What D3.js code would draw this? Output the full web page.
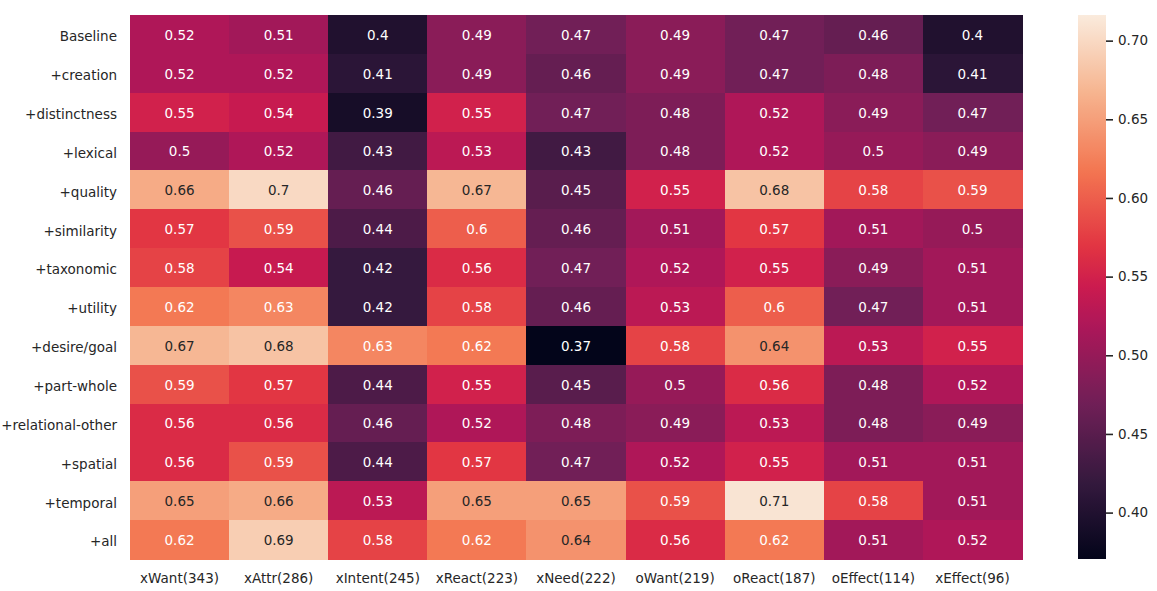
<!DOCTYPE html>
<html>
<head>
<meta charset="utf-8">
<script src="https://cdn.jsdelivr.net/npm/d3@7"></script>
<style>
  html, body { margin: 0; padding: 0; background: #ffffff; }
  svg { display: block; }
  text { font-family: "DejaVu Sans", sans-serif; }
</style>
</head>
<body>
<svg id="chart" width="1157" height="591"></svg>
<script>
// ---- data ----
const columns = ["xWant(343)", "xAttr(286)", "xIntent(245)", "xReact(223)", "xNeed(222)", "oWant(219)", "oReact(187)", "oEffect(114)", "xEffect(96)"];
const rows = ["Baseline", "+creation", "+distinctness", "+lexical", "+quality", "+similarity", "+taxonomic", "+utility", "+desire/goal", "+part-whole", "+relational-other", "+spatial", "+temporal", "+all"];
const values = [
  [0.52, 0.51, 0.40, 0.49, 0.47, 0.49, 0.47, 0.46, 0.40],
  [0.52, 0.52, 0.41, 0.49, 0.46, 0.49, 0.47, 0.48, 0.41],
  [0.55, 0.54, 0.39, 0.55, 0.47, 0.48, 0.52, 0.49, 0.47],
  [0.50, 0.52, 0.43, 0.53, 0.43, 0.48, 0.52, 0.50, 0.49],
  [0.66, 0.70, 0.46, 0.67, 0.45, 0.55, 0.68, 0.58, 0.59],
  [0.57, 0.59, 0.44, 0.60, 0.46, 0.51, 0.57, 0.51, 0.50],
  [0.58, 0.54, 0.42, 0.56, 0.47, 0.52, 0.55, 0.49, 0.51],
  [0.62, 0.63, 0.42, 0.58, 0.46, 0.53, 0.60, 0.47, 0.51],
  [0.67, 0.68, 0.63, 0.62, 0.37, 0.58, 0.64, 0.53, 0.55],
  [0.59, 0.57, 0.44, 0.55, 0.45, 0.50, 0.56, 0.48, 0.52],
  [0.56, 0.56, 0.46, 0.52, 0.48, 0.49, 0.53, 0.48, 0.49],
  [0.56, 0.59, 0.44, 0.57, 0.47, 0.52, 0.55, 0.51, 0.51],
  [0.65, 0.66, 0.53, 0.65, 0.65, 0.59, 0.71, 0.58, 0.51],
  [0.62, 0.69, 0.58, 0.62, 0.64, 0.56, 0.62, 0.51, 0.52]
];
const colorDomain = [0.3705, 0.7163];
const colorbarTicks = [0.40, 0.45, 0.50, 0.55, 0.60, 0.65, 0.70];

// rocket colormap stops
const rocketPos = [0, 1/7, 2/7, 3/7, 0.5, 4/7, 5/7, 6/7, 1];
const rocketCol = ["#03051a", "#35193e", "#701f57", "#ad1759", "#cb1b4f", "#e13342", "#f37651", "#f6b48f", "#faebdd"];

// ---- layout ----
const M = { left: 130, top: 15, width: 892, height: 544 };
const CB = { x: 1078, width: 28 };
const textDark = "#262626";

const svg = d3.select("#chart");
const rocket = d3.scaleLinear().domain(rocketPos).range(rocketCol).interpolate(d3.interpolateRgb).clamp(true);
const norm = d3.scaleLinear().domain(colorDomain).range([0, 1]).clamp(true);
const color = v => rocket(norm(v));

const x = d3.scaleBand().domain(columns).range([M.left, M.left + M.width]).padding(0);
const y = d3.scaleBand().domain(rows).range([M.top, M.top + M.height]).padding(0);

function luminance(c) {
  const rgb = d3.rgb(c);
  const f = v => { v /= 255; return v <= 0.03928 ? v / 12.92 : Math.pow((v + 0.055) / 1.055, 2.4); };
  return 0.2126 * f(rgb.r) + 0.7152 * f(rgb.g) + 0.0722 * f(rgb.b);
}

const cells = [];
rows.forEach((r, i) => columns.forEach((c, j) => cells.push({ r, c, v: values[i][j] })));

const g = svg.append("g");
g.selectAll("rect.cell").data(cells).enter().append("rect")
  .attr("class", "cell")
  .attr("x", d => x(d.c))
  .attr("y", d => y(d.r))
  .attr("width", x.bandwidth() + 0.5)
  .attr("height", y.bandwidth() + 0.5)
  .attr("fill", d => color(d.v))
  .attr("shape-rendering", "crispEdges");

g.selectAll("text.ann").data(cells).enter().append("text")
  .attr("class", "ann")
  .attr("x", d => x(d.c) + x.bandwidth() / 2)
  .attr("y", d => y(d.r) + y.bandwidth() / 2 + 0.6)
  .attr("dy", "0.36em")
  .attr("text-anchor", "middle")
  .attr("font-size", "13.5px")
  .attr("fill", d => luminance(color(d.v)) > 0.408 ? textDark : "#ffffff")
  .text(d => String(+d.v.toFixed(2)));

// axes
const yAxis = svg.append("g")
  .attr("transform", `translate(${M.left},0)`)
  .call(d3.axisLeft(y).tickSize(0).tickPadding(13));
const xAxis = svg.append("g")
  .attr("transform", `translate(0,${M.top + M.height})`)
  .call(d3.axisBottom(x).tickSize(0).tickPadding(14));
[yAxis, xAxis].forEach(a => {
  a.select(".domain").remove();
  a.selectAll("text").attr("font-size", "13.5px").attr("fill", textDark).attr("font-family", "DejaVu Sans, sans-serif");
});
yAxis.selectAll("text").attr("y", 2.5);

// colorbar
const defs = svg.append("defs");
const grad = defs.append("linearGradient").attr("id", "cbgrad")
  .attr("x1", "0").attr("y1", "1").attr("x2", "0").attr("y2", "0");
d3.range(0, 1.0001, 1 / 64).forEach(t => {
  grad.append("stop").attr("offset", t).attr("stop-color", rocket(t));
});
svg.append("rect")
  .attr("x", CB.x).attr("y", M.top)
  .attr("width", CB.width).attr("height", M.height)
  .attr("fill", "url(#cbgrad)");

const cbScale = d3.scaleLinear().domain(colorDomain).range([M.top + M.height, M.top]);
const cbAxis = svg.append("g")
  .attr("transform", `translate(${CB.x + CB.width},0)`)
  .call(d3.axisRight(cbScale).tickValues(colorbarTicks).tickFormat(d3.format(".2f")).tickSize(7).tickPadding(5));
cbAxis.select(".domain").remove();
cbAxis.selectAll("line").attr("stroke", textDark).attr("stroke-width", 1.6);
cbAxis.selectAll("text").attr("font-size", "13.5px").attr("fill", textDark).attr("font-family", "DejaVu Sans, sans-serif");
</script>
</body>
</html>
